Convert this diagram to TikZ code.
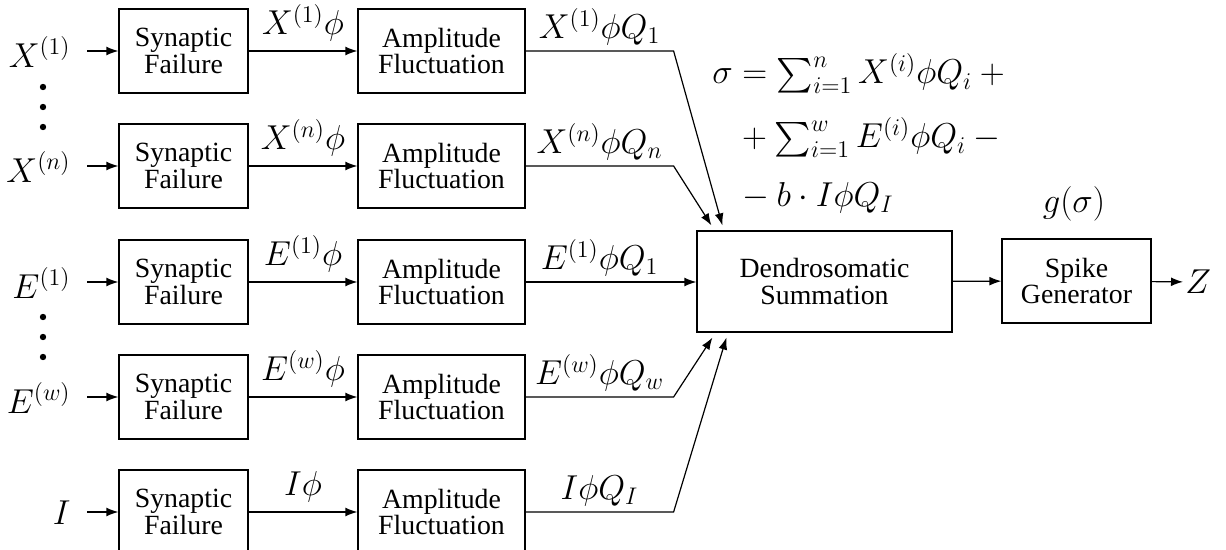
\documentclass[tikz,border=0pt]{standalone}
\usepackage{exscale}
\usepackage{fontspec}
\setmainfont{Liberation Serif}
\newfontfamily\boxfont{Liberation Serif}
\usetikzlibrary{arrows.meta,calc}
\tikzset{
  blk/.style={draw,line width=0.6pt,align=center,inner sep=2pt,font=\boxfont\fontsize{13.9}{13.3}\selectfont,minimum height=42pt},
  synbox/.style={blk,minimum width=64.5pt},
  ampbox/.style={blk,minimum width=83.5pt},
  sumbox/.style={blk,minimum width=127.5pt,minimum height=50.5pt},
  spkbox/.style={blk,minimum width=74.5pt},
  mlbl/.style={font=\fontsize{17}{20}\selectfont,inner sep=4.5pt},
  ar/.style={-{Latex[length=6pt,width=4.4pt]},line width=0.6pt},
}

\begin{document}
\begin{tikzpicture}[x=0.5pt,y=-0.5pt]
  \useasboundingbox (0,0) rectangle (1226,550);
  % summation and spike generator
  \node[sumbox] (ds) at (824.5,281.5) {Dendrosomatic\\Summation};
  \node[spkbox] (sg) at (1076.5,281) {Spike\\Generator};
  \node[mlbl,inner sep=1pt,anchor=west] (z) at (1183,282) {$Z$};
  \node[mlbl] (g) at (1074,204) {$g(\sigma)$};
  \draw[ar] (ds) -- (sg);
  \draw[ar] (sg) -- (z);
  % where the inputs end on the summation box
  \coordinate (dt1) at ($(ds.north west)+(26,-5)$);
  \coordinate (dt2) at ($(ds.north west)+(15,-5)$);
  \coordinate (dm3) at (ds.west |- 0,282);
  \coordinate (db4) at ($(ds.south west)+(16,5)$);
  \coordinate (db5) at ($(ds.south west)+(30,5)$);
  % input chains
  \foreach \i/\y/\inp/\sig/\amp in {1/51/X^{(1)}/X^{(1)}\phi/X^{(1)}\phi Q_1,
      2/166/X^{(n)}/X^{(n)}\phi/X^{(n)}\phi Q_n,
      3/282/E^{(1)}/E^{(1)}\phi/E^{(1)}\phi Q_1,
      4/397/E^{(w)}/E^{(w)}\phi/E^{(w)}\phi Q_w,
      5/512/I/I\phi/I\phi Q_I}{
    \node[synbox] (sf\i) at (183.5,\y) {Synaptic\\Failure};
    \node[ampbox] (af\i) at (441.5,\y) {Amplitude\\Fluctuation};
    \node[mlbl,inner sep=0pt,anchor=east] (in\i) at (71,\y+1) {$\inp$};
    \draw[ar,shorten <=8pt] (in\i.east |- sf\i.west) -- (sf\i.west);
    \draw[ar] (sf\i) -- node[mlbl,above] (s\i) {$\sig$} (af\i);
    \draw[ar] (af\i.east) -- node[mlbl,above,inner sep=2.5pt] (q\i) {$\amp$} ++(148,0) -- (\ifcase\i\or dt1\or dt2\or dm3\or db4\or db5\fi);
  }
  \foreach \y in {87,107,127,317,337,357}
    \fill (43,\y) circle (1.6pt);
  % the sum
  \node[mlbl,inner sep=0pt,anchor=base west] (eq1) at (712,84) {$\sigma = \sum_{i=1}^{n} X^{(i)}\phi Q_i +{}$};
  \node[mlbl,inner sep=0pt,anchor=base west] (eq2) at (734,148) {${}+ \sum_{i=1}^{w} E^{(i)}\phi Q_i -{}$};
  \node[mlbl,inner sep=0pt,anchor=base west] (eq3) at (734,207) {${}- b\cdot I\phi Q_I$};
\end{tikzpicture}
\end{document}
